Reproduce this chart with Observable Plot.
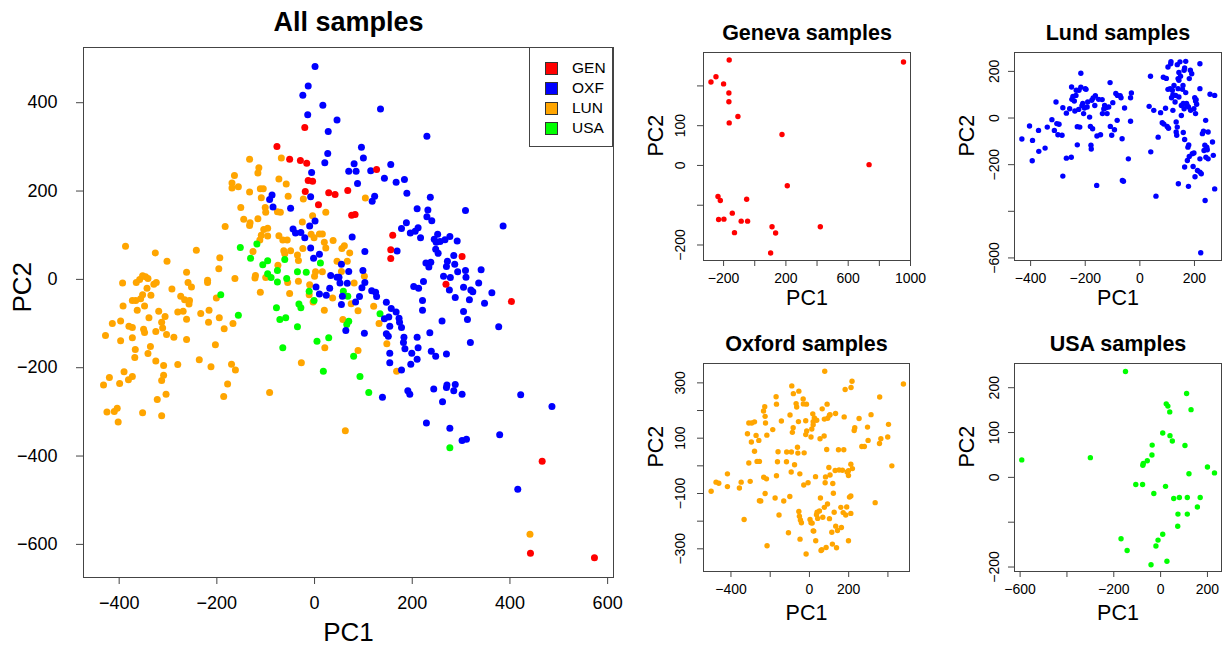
<!DOCTYPE html>
<html><head><meta charset="utf-8">
<script src="https://cdn.jsdelivr.net/npm/d3@7"></script>
<script src="https://cdn.jsdelivr.net/npm/@observablehq/plot@0.6"></script>
<style>
body{margin:0;background:#fff;}
#wrap{position:relative;width:1225px;height:646px;overflow:hidden;font-family:"Liberation Sans",Arial,Helvetica,sans-serif;}
#legend{position:absolute;left:529px;top:47px;width:84px;height:100px;border:1px solid #444;box-sizing:border-box;background:#fff;}
.lrow{position:absolute;left:15px;height:20px;display:flex;align-items:center;font-size:15.5px;color:#000;}
.lsw{width:11px;height:11px;border:1px solid #333;margin-right:14px;}
</style></head><body><div id="wrap"></div>
<script>
// ---------- DATA ----------
// All samples panel (main): [PC1, PC2]
const allGEN = [[-20,344],[-77,301],[-51,272],[-29,269],[-16,263],[-13,224],[-4,222],[-19,199],[29,196],[42,192],[8,169],[127,249],[68,201],[76,145],[83,147],[160,100],[156,67],[156,47],[302,52],[269,-11],[403,-50],[466,-412],[442,-620],[573,-630]];
const allOXF = [[1,482],[-13,438],[-24,417],[17,394],[-14,373],[46,361],[28,335],[135,386],[230,324],
[27,285],[21,264],[-6,242],[-87,191],[-92,181],[-8,187],[-85,164],[-49,161],[1,132],[-10,121],[-44,114],[-39,105],[-28,106],[-20,94],[-8,71],[10,57],[-2,48],
[96,299],[100,275],[81,262],[70,245],[85,245],[115,246],[156,260],[143,229],[167,220],[184,226],[88,217],[189,195],[123,188],[118,177],[237,186],[210,160],[232,157],[309,156],[386,121],[230,142],[240,133],[188,128],[178,115],[212,117],[206,109],[196,105],[217,94],[252,102],[245,91],[249,84],[257,86],[267,90],[277,97],[292,87],[77,96],[103,63],[169,64],[248,68],[253,59],[285,54],[272,41],[228,37],[238,39],[55,34],[287,34],
[3,-17],[10,-33],[24,-36],[31,-20],[33,9],[46,5],
[70,18],[50,5],[52,-8],[67,-9],[99,20],[103,-7],[97,-19],[57,-38],[92,-39],[84,-51],[55,-57],[117,-26],[125,-29],[127,-39],[147,-52],[157,-66],[167,-74],[143,-89],[152,-85],[173,-88],[174,-97],[178,-109],[154,-106],[64,-116],[102,-122],[147,-123],[151,-129],[183,-131],[182,-143],[210,-131],[212,-155],[185,-157],[199,-167],[154,-167],[210,-181],[154,-189],[197,-192],[178,-205],[239,-163],[248,-174],[270,-169],[236,-121],[261,-94],[203,-16],[213,-20],[223,-5],[221,-48],[221,-70],[234,28],[270,29],[264,7],[278,4],[293,17],[309,20],[310,5],[276,-24],[305,-18],[320,-24],[324,-28],[341,22],[336,-8],[288,-41],[317,-46],[348,-54],[363,-30],[305,-73],[313,-91],[377,-107],[319,-143],[288,-238],[271,-239],
[244,-248],[270,-245],[285,-252],[302,-260],[262,-277],[191,-252],[195,-260],[139,-267],[422,-261],[486,-288],[229,-325],[277,-337],[302,-365],[311,-362],[379,-352],[416,-475]];
const allLUN = [[-133,272],[-68,275],[-114,253],[-116,241],[-164,235],[-169,218],[-169,207],[-156,210],[-73,227],[-58,216],[-111,205],[-105,205],[-133,198],[-109,185],[-54,188],[-23,182],[-151,163],[-101,163],[-100,152],[-76,153],[-70,152],[23,152],[-145,136],[-116,137],[-132,128],[-133,122],[-4,144],[-25,130],[-183,120],[-104,113],[-96,116],[-109,100],[-96,98],[-73,99],[-65,89],[-56,89],[-7,102],[-1,94],[10,103],[16,103],[20,84],[23,71],[38,88],[-242,66],[-194,49],[-126,63],[-112,89],[-63,65],[-61,58],[-49,65],[-35,55],[-24,70],[-33,43],[46,41],
[104,184],[61,76],[56,70],[72,60],[67,41],
[-75,32],[-121,9],[-122,3],[-100,4],[-55,-7],[-33,-4],[0,7],[2,17],[16,17],[-10,-12],[-11,-35],[-3,-51],[37,-42],[20,-70],[-51,-32],[-111,-29],[-262,16],[-196,24],[-163,2],[-219,-2],[-219,-7],[-259,-7],[-252,-17],[-292,-22],[-274,-38],[-266,-46],[-256,-48],[-257,-56],[-201,-42],[-280,-74],[-269,-72],[-233,-77],[-216,-70],[-262,-90],[-217,-97],[-195,-87],[-167,-100],[-185,-112],[-288,-131],[-262,-136],[-203,-148],[21,-155],[-236,-182],[-280,-193],[-212,-198],[-170,-192],[-162,-205],[-27,-189],[-178,-237],
[55,18],[102,7],[81,-8],[75,-55],[89,-71],[121,-61],[132,-100],[58,-91],[148,-146],[89,-161],[168,-208],
[63,-343],[441,-577],
[-387,75],[-326,60],[-302,41],[-393,-8],[-365,-7],[-358,0],[-352,8],[-346,6],[-341,2],[-329,-11],[-324,-7],[-343,-20],[-352,-35],[-356,-44],[-366,-48],[-373,-48],[-335,-36],[-348,-60],[-363,-70],[-392,-60],[-319,-72],[-339,-87],[-313,-97],[-306,-84],[-397,-94],[-414,-100],[-380,-106],[-373,-109],[-350,-113],[-348,-120],[-325,-118],[-311,-110],[-303,-125],[-428,-127],[-397,-139],[-373,-132],[-367,-159],[-368,-177],[-336,-152],[-341,-168],[-325,-185],[-309,-195],[-390,-209],[-420,-222],[-432,-239],[-399,-236],[-381,-227],[-373,-220],[-309,-217],[-313,-229],[-304,-260],[-322,-272],[-425,-300],[-410,-299],[-404,-292],[-402,-323],[-352,-302],[-313,-309],
[-186,-265],[-92,-256]];
const allUSA = [[-152,72],[-118,80],[-131,48],[-96,42],[-61,45],[-106,33],[12,37],[-96,13],[-89,4],[-76,20],[-76,-6],[-57,2],[-35,17],[-17,16],[-11,-27],[-1,-48],[-192,-35],[-156,-81],[-32,-56],[-28,-64],[-78,-64],[-71,-91],[-59,-87],[-35,-107],[-65,-155],[5,-140],[29,-132],[18,-208],[59,-27],[68,-38],[134,-78],[70,-95],[66,-102],[80,-174],[93,-220],[111,-256],[277,-381]];

// Geneva samples panel
const genevaPts = [[-164,265],[-249,223],[-281,210],[-200,205],[-166,182],[-166,160],[-108,123],[-164,107],[175,78],[955,260],[734,2],[209,-51],[-236,-78],[-221,-88],[-52,-85],[-144,-120],[-232,-136],[-198,-135],[-87,-140],[-46,-140],[-130,-169],[111,-154],[134,-170],[421,-154],[102,-220]];
// Lund samples panel
const lundPts = [[-432,-90],[-404,-34],[-394,-183],[-393,-96],[-371,-53],[-370,-143],[-347,-129],[-339,-39],[-322,-7],[-313,-53],[-307,69],[-304,-24],[-300,-72],[-296,-27],[-285,-74],[-282,44],[-282,-249],[-269,-172],[-269,21],[-257,40],[-251,-168],[-250,133],[-245,93],[-249,80],[-240,73],[-238,30],[-234,97],[-233,119],[-229,-115],[-229,-37],[-224,37],[-223,119],[-220,-39],[-216,192],[-216,132],[-212,53],[-209,62],[-206,19],[-203,43],[-200,126],[-197,123],[-193,47],[-191,69],[-184,4],[-181,-36],[-179,-117],[-178,-133],[-176,76],[-173,-46],[-171,86],[-165,54],[-163,96],[-158,-289],[-157,-77],[-151,80],[-144,-72],[-138,79],[-137,19],[-132,39],[-129,54],[-124,44],[-120,19],[-114,47],[-109,152],[-108,-36],[-103,-74],[-99,66],[-93,-50],[-88,105],[-83,-10],[-82,97],[-72,96],[-69,87],[-65,-89],[-64,-268],[-60,-271],[-56,43],[-42,-175],[-34,-14],[-34,87],[-31,107],
[34,50],[39,179],[40,-145],[51,33],[59,-335],[67,-82],[76,23],[82,-20],[86,175],[88,-26],[94,42],[97,170],[100,-36],[103,219],[103,123],[105,-44],[111,126],[113,233],[114,242],[116,87],[119,119],[121,33],[121,100],[125,140],[129,69],[131,97],[133,-17],[133,-60],[135,-74],[137,229],[137,-39],[140,169],[140,126],[141,-282],[143,162],[143,195],[143,90],[147,241],[149,179],[152,54],[152,11],[156,123],[158,140],[159,62],[159,-62],[162,205],[162,40],[164,215],[164,-92],[164,-210],[168,243],[168,109],[171,62],[173,54],[174,-182],[176,-125],[178,47],[178,-293],[179,-116],[181,169],[181,-165],[185,205],[186,33],[190,190],[192,-153],[195,-208],[198,40],[198,-150],[201,87],[202,-252],[204,73],[204,19],[206,79],[208,59],[211,-225],[220,233],[220,-232],[220,126],[220,-175],[223,-578],[225,-239],[229,-67],[233,-57],[235,-139],[238,-117],[239,-354],[241,-10],[242,-168],[245,-125],[247,-136],[250,-60],[250,-175],[257,102],[266,-103],[269,-160],[274,97],[274,-304]];
// Oxford samples panel
const oxfordPts = [[-501,-92],[-476,-59],[-462,-63],[-418,-29],[-418,-75],[-357,-80],[-348,-59],[-333,-194],[-316,116],[-309,10],[-302,-56],[-296,86],[-309,155],[-294,155],[-280,159],[-280,53],[-272,110],[-267,16],[-255,16],[-258,92],[-255,-126],[-248,-127],[-234,198],[-233,-41],[-228,214],[-224,155],[-226,179],[-219,-47],[-217,111],[-216,-289],[-226,-100],[-187,131],[-175,-116],[-170,250],[-168,223],[-168,-36],[-163,15],[-160,51],[-155,-178],[-143,162],[-131,-127],[-117,15],[-116,50],[-107,-242],[-100,-111],[-99,184],[-93,-22],[-92,50],[-90,289],[-87,121],[-83,138],[-82,261],[-76,4],[-68,225],[-65,213],[-61,67],[-59,46],[-54,270],[-56,160],[-49,-29],[-54,-165],[-51,-182],[-48,-265],[-46,-196],[-41,-206],[-32,242],[-31,224],[-29,-69],[-27,47],[-19,163],[-19,113],[-17,-319],[-15,223],[-14,126],[-7,-61],[3,-194],[8,-206],[8,104],[12,133],[14,-207],[17,188],[19,160],[19,149],[19,-235],[22,-236],[25,173],[31,-39],[32,-271],[36,-177],[37,165],[39,-168],[42,-190],[51,-163],[56,-116],[54,98],[59,-306],[63,-303],[65,206],[68,-186],[75,108],[76,-150],[76,169],[80,-61],[82,-40],[85,-295],[88,59],[90,223],[92,-138],[93,172],[99,-6],[102,-191],[102,183],[105,185],[105,-33],[114,-240],[117,-283],[119,-64],[122,-99],[126,-168],[131,-17],[133,189],[134,-218],[138,-296],[143,-234],[148,58],[151,-15],[160,-150],[163,-223],[168,-16],[172,-169],[175,58],[177,177],[182,276],[185,-178],[190,-149],[192,-22],[199,-18],[199,-35],[199,-271],[204,-113],[211,6],[211,-109],[211,-172],[219,-10],[212,283],[217,306],[228,128],[231,138],[253,171],[267,70],[280,70],[296,140],[299,92],[314,185],[335,-133],[357,81],[358,249],[364,98],[399,104],[403,150],[420,0],[479,296],[78,342]];
// USA samples panel
const usaPts = [[-593,39],[-300,44],[-150,236],[-169,-137],[-143,-163],[-106,-16],[-77,-16],[-76,27],[-74,31],[-57,37],[-37,50],[-36,72],[-41,-195],[-29,-36],[-20,-153],[-11,-140],[9,99],[9,-127],[21,-20],[24,164],[31,159],[27,-187],[39,146],[40,93],[50,81],[56,-47],[74,-82],[73,-109],[80,-45],[104,71],[111,187],[114,-45],[114,-82],[121,8],[130,151],[157,-66],[169,-45],[200,23],[230,10]];

// Tick values and labels
const mainXTicks = [-400,-200,0,200,400,600];
const mainYTicks = [-600,-400,-200,0,200,400];
const genXTicks = [-200,0,200,400,600,800,1000], genXLabels = [-200,200,600,1000];
const genYTicks = [-200,-100,0,100,200], genYLabels = [-200,0,100];
const lunXTicks = [-400,-200,0,200], lunXLabels = [-400,-200,0,200];
const lunYTicks = [-600,-400,-200,0,200], lunYLabels = [-600,-200,0,200];
const oxfXTicks = [-400,-200,0,200,400], oxfXLabels = [-400,0,200];
const oxfYTicks = [-300,-200,-100,0,100,200,300], oxfYLabels = [-300,-100,100,300];
const usaXTicks = [-600,-400,-200,0,200], usaXLabels = [-600,-200,0,200];
const usaYTicks = [-200,-100,0,100,200], usaYLabels = [-200,0,100,200];
const legendLabels = ["GEN","OXF","LUN","USA"];
const legendColors = ["#FF0000","#0000FF","#FFA500","#00FF00"];

// ---------- DRAWING ----------
const FONT = '"Liberation Sans", Arial, Helvetica, sans-serif';
const fmt = d => d < 0 ? "\u2212" + Math.abs(d) : String(d);
const wrap = document.getElementById("wrap");

function makePanel(c) {
  const marks = [
    Plot.frame({stroke: "#444"}),
    Plot.axisX({ticks: c.xTicks, tickSize: c.tickSize, tickPadding: c.xPad, fontSize: c.tickFont, label: null, stroke: "#444",
      tickFormat: d => (c.xLabels ? c.xLabels.includes(d) : true) ? fmt(d) : ""})
  ];
  if (c.yRot) {
    marks.push(Plot.axisY({ticks: c.yTicks, tickSize: c.tickSize, label: null, stroke: "#444", tickFormat: () => ""}));
    marks.push(Plot.text(c.yLabels, {y: d => d, text: d => fmt(d), frameAnchor: "left", dx: c.yDx, rotate: -90,
      fontSize: c.tickFont, textAnchor: "middle", lineAnchor: "middle"}));
  } else {
    marks.push(Plot.axisY({ticks: c.yTicks, tickSize: c.tickSize, tickPadding: c.yPad, fontSize: c.tickFont, label: null, stroke: "#444", tickFormat: fmt}));
  }
  for (const s of c.series) marks.push(Plot.dot(s.data, {x: d => d[0], y: d => d[1], r: c.r, fill: s.color}));
  marks.push(Plot.text([c.title], {text: d => d, frameAnchor: "top", dy: c.titleDy, fontSize: c.titleFont, fontWeight: "bold", lineAnchor: "middle"}));
  marks.push(Plot.text(["PC1"], {text: d => d, frameAnchor: "bottom", dy: c.xlabDy, fontSize: c.labFont, lineAnchor: "middle"}));
  marks.push(Plot.text(["PC2"], {text: d => d, frameAnchor: "left", dx: c.ylabDx, rotate: -90, fontSize: c.labFont, lineAnchor: "middle"}));
  const svg = Plot.plot({
    width: c.width, height: c.height,
    marginTop: c.mt, marginLeft: c.ml, marginRight: c.mr, marginBottom: c.mb,
    x: {domain: c.xDomain}, y: {domain: c.yDomain},
    style: {fontFamily: FONT, color: "#000", background: "transparent", overflow: "visible"},
    marks
  });
  svg.style.position = "absolute";
  svg.style.left = c.left + "px";
  svg.style.top = c.top + "px";
  wrap.appendChild(svg);
}

// Main panel
makePanel({
  left: 0, top: 0, width: 625, height: 646, mt: 47, ml: 83, mr: 12, mb: 69,
  xDomain: [-473, 612], yDomain: [-675, 525],
  xTicks: mainXTicks, yTicks: mainYTicks, yRot: false,
  tickSize: 7, xPad: 12, yPad: 19, tickFont: 18, r: 3.5,
  title: "All samples", titleFont: 27, titleDy: -25,
  labFont: 26, xlabDy: 55, ylabDx: -61,
  series: [
    {data: allLUN, color: legendColors[2]},
    {data: allUSA, color: legendColors[3]},
    {data: allOXF, color: legendColors[1]},
    {data: allGEN, color: legendColors[0]}
  ]
});

const sub = {tickSize: 6, xPad: 7, tickFont: 14, r: 2.7, titleFont: 21.5, titleDy: -19, labFont: 21.5, ylabDx: -47, yRot: true};
makePanel({...sub, left: 640, top: 0, width: 290, height: 325, mt: 52, ml: 63, mr: 20, mb: 65,
  xDomain: [-329, 1000], yDomain: [-239, 284], xTicks: genXTicks, xLabels: genXLabels, yTicks: genYTicks, yLabels: genYLabels,
  yDx: -22.5, xlabDy: 38, title: "Geneva samples", series: [{data: genevaPts, color: "#FF0000"}]});
makePanel({...sub, left: 930, top: 0, width: 295, height: 325, mt: 52, ml: 84, mr: 4, mb: 65,
  xDomain: [-459, 299], yDomain: [-611, 281], xTicks: lunXTicks, xLabels: lunXLabels, yTicks: lunYTicks, yLabels: lunYLabels,
  yDx: -19.5, xlabDy: 38, title: "Lund samples", series: [{data: lundPts, color: "#0000FF"}]});
makePanel({...sub, left: 640, top: 325, width: 290, height: 321, mt: 38, ml: 63, mr: 21, mb: 75,
  xDomain: [-540, 510], yDomain: [-382, 370], xTicks: oxfXTicks, xLabels: oxfXLabels, yTicks: oxfYTicks, yLabels: oxfYLabels,
  yDx: -22.5, xlabDy: 42, title: "Oxford samples", series: [{data: oxfordPts, color: "#FFA500"}]});
makePanel({...sub, left: 930, top: 325, width: 295, height: 321, mt: 38, ml: 84, mr: 4, mb: 75,
  xDomain: [-624, 260], yDomain: [-210, 254], xTicks: usaXTicks, xLabels: usaXLabels, yTicks: usaYTicks, yLabels: usaYLabels,
  yDx: -19.5, xlabDy: 42, title: "USA samples", series: [{data: usaPts, color: "#00FF00"}]});

// Legend
const leg = document.createElement("div");
leg.id = "legend";
legendLabels.forEach((lab, i) => {
  const row = document.createElement("div");
  row.className = "lrow";
  row.style.top = (10 + i * 20) + "px";
  const sw = document.createElement("span");
  sw.className = "lsw";
  sw.style.background = legendColors[i];
  const tx = document.createElement("span");
  tx.textContent = lab;
  row.appendChild(sw); row.appendChild(tx);
  leg.appendChild(row);
});
wrap.appendChild(leg);
</script>
</body></html>
